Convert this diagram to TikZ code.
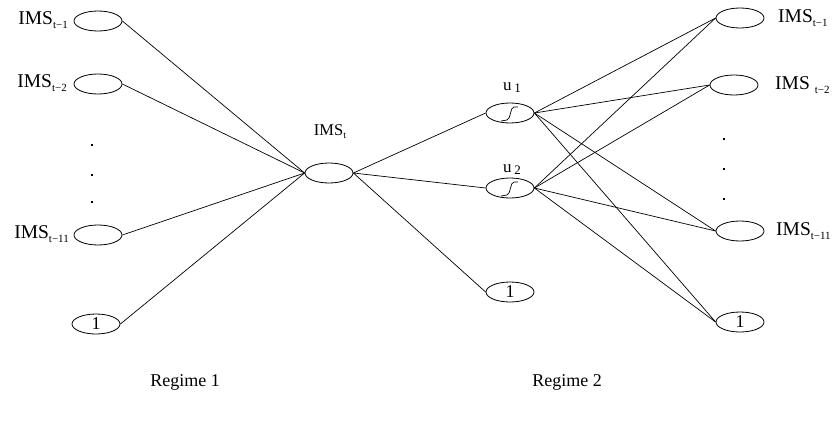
\documentclass[tikz,border=0pt]{standalone}
\usepackage{fontspec}
\setmainfont{Liberation Serif}
\usetikzlibrary{shapes.geometric}
\newcommand{\lsub}[1]{\raisebox{-0.45ex}{\fontsize{11}{11}\selectfont #1}}
\begin{document}
\begin{tikzpicture}[x=1pt,y=-1pt,
  unit/.style={draw,ellipse,minimum width=48pt,minimum height=20pt,inner sep=0pt,line width=0.8pt},
  lab/.style={inner sep=0pt,font=\fontsize{19.5}{21}\selectfont},
  one/.style={font=\fontsize{18}{20}\selectfont},
  con/.style={line width=0.7pt},
  dotm/.style={fill,inner sep=0pt,minimum size=2pt,rectangle}]
\useasboundingbox (0,0) rectangle (836,421);
% left column
\node[unit] (l1) at (98,21) {};
\node[unit] (l2) at (98,84) {};
\node[unit] (l11) at (98,235) {};
\node[unit,one] (l0) at (96,324) {1};
\node[lab,anchor=east] (ll1) at (68,20) {IMS\lsub{t−1}};
\node[lab,anchor=east] (ll2) at (67,83) {IMS\lsub{t−2}};
\node[lab,anchor=east] (ll11) at (69,234) {IMS\lsub{t−11}};
\node[dotm] (ld1) at (92,145) {};
\node[dotm] (ld2) at (92,175) {};
\node[dotm] (ld3) at (92,202) {};
% middle
\node[unit] (t) at (329,173) {};
\node[lab,font=\fontsize{16.5}{18}\selectfont] (tl) at (330,132) {IMS\raisebox{-0.4ex}{\fontsize{10}{10}\selectfont t}};
\node[unit] (u1) at (510,113) {};
\node[unit] (u2) at (510,188) {};
\node[lab,font=\fontsize{17}{19}\selectfont] (u1l) at (512,88) {u\,\raisebox{-0.25ex}{\fontsize{13}{13}\selectfont 1}};
\node[lab,font=\fontsize{17}{19}\selectfont] (u2l) at (512,170) {u\,\raisebox{-0.25ex}{\fontsize{13}{13}\selectfont 2}};
\node[unit,one] (m0) at (510,292) {1};
\draw[line width=0.7pt] ([shift={(-9,8)}]u1.center) -- ([shift={(-3,7)}]u1.center) .. controls ([shift={(1,6)}]u1.center) and ([shift={(0,-6)}]u1.center) .. ([shift={(4,-6)}]u1.center) -- ([shift={(8,-6)}]u1.center);
\draw[line width=0.7pt] ([shift={(-9,8)}]u2.center) -- ([shift={(-3,7)}]u2.center) .. controls ([shift={(1,6)}]u2.center) and ([shift={(0,-6)}]u2.center) .. ([shift={(4,-6)}]u2.center) -- ([shift={(8,-6)}]u2.center);
% right column
\node[unit] (r1) at (740,18) {};
\node[unit] (r2) at (734,85) {};
\node[unit] (r11) at (740,231) {};
\node[unit,one] (r0) at (740,322) {1};
\node[lab,anchor=west] (rl1) at (778,18) {IMS\lsub{t−1}};
\node[lab,anchor=west] (rl2) at (775,85) {IMS \lsub{t−2}};
\node[lab,anchor=west] (rl11) at (776,231) {IMS\lsub{t−11}};
\node[dotm] (rd1) at (724,139) {};
\node[dotm] (rd2) at (724,169) {};
\node[dotm] (rd3) at (724,199) {};
% regime labels
\node[lab,font=\fontsize{18}{20}\selectfont] (g1) at (185,382) {Regime 1};
\node[lab,font=\fontsize{18}{20}\selectfont] (g2) at (567,382) {Regime 2};
% connectors
\foreach \a in {l1,l2,l11,l0} \draw[con] (\a.east) -- (t.west);
\foreach \b in {u1,u2,m0} \draw[con] (t.east) -- (\b.west);
\foreach \a in {u1,u2} \foreach \b in {r1,r2,r11,r0} \draw[con] (\a.east) -- (\b.west);
\end{tikzpicture}
\end{document}
